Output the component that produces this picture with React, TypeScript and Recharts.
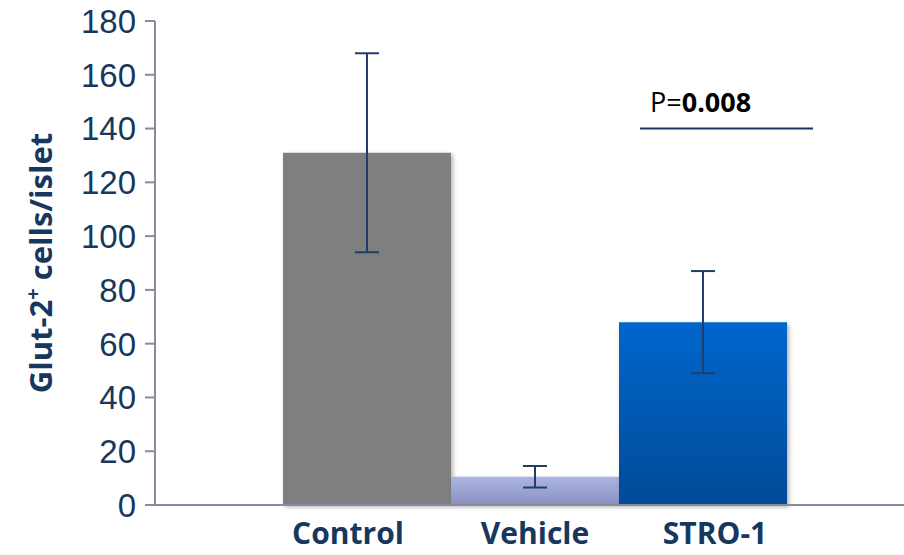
import { Bar, BarChart, Cell, ErrorBar, ReferenceLine, XAxis, YAxis } from "recharts";

const groups = ["Control", "Vehicle", "STRO-1"];
const means = [131, 10.5, 68];
const errors = [37, 4, 19];
const yTicks = [0, 20, 40, 60, 80, 100, 120, 140, 160, 180];
const pLabel = "P=";
const pValue = "0.008";
const pLineAt = 140;

const fills = ["#7f7f7f", "url(#vehicleFill)", "url(#stroFill)"];
const labelShift = [-19, 0, 12];
const navy = "#17375E";
const axisGray = "#868B9E";
const font = "'Open Sans', 'Liberation Sans', sans-serif";
const tickFont = "'Liberation Sans', Arial, sans-serif";

const data = groups.map((name, i) => ({ name, value: means[i], err: errors[i] }));

function YLabel({ viewBox }: any) {
  const cy = viewBox.y + viewBox.height / 2;
  return (
    <text
      x={0}
      y={0}
      transform={`translate(52, ${cy}) rotate(-90)`}
      textAnchor="middle"
      fill={navy}
      fontFamily={font}
      fontWeight="bold"
      fontSize={31}
    >
      Glut-2
      <tspan fontSize={20} dy={-12}>+</tspan>
      <tspan dy={12}> cells/islet</tspan>
    </text>
  );
}

function GroupTick({ x, y, payload, index }: any) {
  return (
    <text
      x={x + (labelShift[index] ?? 0)}
      y={y}
      dy="0.71em"
      textAnchor="middle"
      fill={navy}
      fontFamily={font}
      fontWeight="bold"
      fontSize={30}
    >
      {payload.value}
    </text>
  );
}

function ValueTick({ x, y, payload }: any) {
  return (
    <text
      x={x}
      y={y}
      dy="0.36em"
      textAnchor="end"
      fill={navy}
      fontFamily={tickFont}
      fontSize={33}
    >
      {payload.value}
    </text>
  );
}

function PValue(props: any) {
  const { x1, y1 } = props;
  const a = x1 + 485;
  const b = x1 + 658;
  return (
    <g>
      <line x1={a} x2={b} y1={y1} y2={y1} stroke={navy} strokeWidth={2} />
      <text x={a + 10} y={y1 - 17} fontFamily={font} fontSize={27} fill="#000">
        {pLabel}
        <tspan fontWeight="bold">{pValue}</tspan>
      </text>
    </g>
  );
}

export default function App() {
  return (
    <div style={{ position: "absolute", left: 0, top: 0, background: "#fff" }}>
      <BarChart
        width={904}
        height={555}
        data={data}
        margin={{ top: 21, right: 0, left: 0, bottom: 10 }}
        barCategoryGap={0}
        barGap={0}
      >
        <defs>
          <linearGradient id="vehicleFill" x1="0" y1="0" x2="0" y2="1">
            <stop offset="0%" stopColor="#abb4e4" />
            <stop offset="100%" stopColor="#8b91bf" />
          </linearGradient>
          <linearGradient id="stroFill" x1="0" y1="0" x2="0" y2="1">
            <stop offset="0%" stopColor="#0066cc" />
            <stop offset="100%" stopColor="#004b98" />
          </linearGradient>
          <filter id="barShadow" x="-10%" y="-10%" width="130%" height="130%">
            <feDropShadow dx="2" dy="2" stdDeviation="2" floodColor="#000" floodOpacity="0.3" />
          </filter>
        </defs>
        <XAxis
          dataKey="name"
          padding={{ left: 128, right: 117 }}
          height={40}
          axisLine={{ stroke: axisGray, strokeWidth: 2 }}
          tickLine={false}
          tickSize={6}
          tickMargin={12}
          tick={<GroupTick />}
        />
        <YAxis
          domain={[0, 180]}
          ticks={yTicks}
          width={155}
          interval={0}
          tickSize={10}
          tickMargin={9}
          axisLine={{ stroke: axisGray, strokeWidth: 2 }}
          tickLine={{ stroke: axisGray, strokeWidth: 2 }}
          tick={<ValueTick />}
          label={{ content: YLabel }}
        />
        <Bar dataKey="value" isAnimationActive={false}>
          {data.map((d, i) => (
            <Cell key={d.name} fill={fills[i]} filter="url(#barShadow)" />
          ))}
          <ErrorBar dataKey="err" width={12} stroke="#1F3E6E" strokeWidth={2} />
        </Bar>
        <ReferenceLine y={pLineAt} stroke="none" shape={PValue} />
      </BarChart>
    </div>
  );
}
